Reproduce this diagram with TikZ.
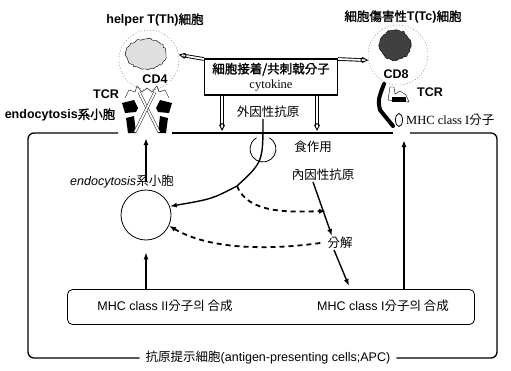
\documentclass[tikz,border=0pt]{standalone}
\usepackage{fontspec}
\setmainfont{Liberation Sans}
\newfontfamily\kr{Noto Sans CJK KR}[AutoFakeBold=1.5]
\newfontfamily\rmser{Liberation Serif}
\usetikzlibrary{arrows.meta,shapes.geometric,decorations.pathmorphing}

\begin{document}
\begin{tikzpicture}[x=1pt, y=-1pt, inner sep=1pt,
    txt/.style={font=\fontsize{12.5}{15}\selectfont},
    btxt/.style={font=\fontsize{12.5}{15}\selectfont\bfseries},
    flow/.style={line width=1.4pt, -{Latex[length=7pt,width=5pt]}},
    dflow/.style={line width=1.8pt, dash pattern=on 5pt off 4pt, -{Latex[length=7pt,width=5pt]}},
    hollow/.style={double, double distance=1.8pt, line width=0.9pt, -{Kite[open,length=8pt,width=6pt]}},
    cellring/.style={draw=gray, dash pattern=on 1.2pt off 1.8pt, circle, minimum size=60pt}]
  \useasboundingbox (0,0) rectangle (511,370);

  % T cells
  \node[btxt] (th) at (155,20) {helper T(Th){\kr 細胞}};
  \node[btxt] (tc) at (403,17) {{\kr 細胞傷害性}T(Tc){\kr 細胞}};
  \node[cellring] (thcell) at (149,60) {};
  \node[cellring] (tccell) at (398,55) {};
  \draw[fill=gray!25, thin, decorate, decoration={random steps, segment length=2pt, amplitude=1pt}]
    (146,54) ellipse [x radius=20, y radius=15];
  \draw[fill=black!75, decorate, decoration={random steps, segment length=2pt, amplitude=1.2pt}]
    (395,45) ellipse [x radius=16, y radius=15];
  \node[btxt, fill=white] (cd4) at (155,79) {CD4};
  \node[btxt, fill=white] (cd8) at (396,74) {CD8};

  % receptors of the helper T cell
  \begin{scope}[shift={(147,110)}]
    \draw[thin] (-22,-12) -- (-18,-20) -- (-12,-18) -- (-10,-24) -- (-5,-18) -- (0,-22)
      -- (5,-18) -- (10,-24) -- (12,-18) -- (18,-20) -- (22,-12);
    \fill (-25,-7) -- (-13,-10) -- (-9,-2) -- (-11,2) -- (-22,3) -- cycle;
    \fill (25,-7) -- (13,-10) -- (9,-2) -- (11,2) -- (22,3) -- cycle;
    \fill (-21,8) -- (-13,6) -- (-11,23) -- (-19,23) -- cycle;
    \fill (21,8) -- (13,6) -- (11,23) -- (19,23) -- cycle;
    \draw[double=white, double distance=2pt, thin] (-8,-18) -- (12,22);
    \draw[double=white, double distance=2pt, thin] (8,-18) -- (-12,22);
  \end{scope}
  \node[btxt] (tcrl) at (106,94) {TCR};
  \node[btxt] (endol) at (60,115) {endocytosis{\kr 系小胞}};

  % receptors of the cytotoxic T cell
  \draw[line width=4pt, line cap=round] (384,84) .. controls (378,100) .. (380,110) -- (393,126);
  \draw[thin, fill=white] (388,100) -- (390,87) -- (394,87) -- (395,94) -- (400,91) -- (406,95)
    -- (409,102) -- cycle;
  \fill (392,97) rectangle (406,102);
  \node[btxt] (tcrr) at (430,92) {TCR};
  \node[draw, thick, ellipse, minimum width=7pt, minimum height=13pt, inner sep=0pt] (mhcI) at (399,120) {};
  \node[txt, anchor=west] (mhcIl) at (405,120) {\rmser MHC class I{\kr 分子}};

  % adhesion / cytokine box
  \node[draw, line width=1.3pt, align=center, minimum width=133pt, minimum height=36pt, font=\fontsize{12.5}{15}\selectfont]
    (sig) at (271,77) {{\kr\bfseries 細胞接着/共刺戟分子}\\ \rmser cytokine};
  \draw[hollow] (sig.165) -- (thcell.10);
  \draw[hollow] (sig.15) -- (tccell.190);
  \coordinate (m1) at (222,131);
  \coordinate (m2) at (317,131);
  \draw[hollow] (sig.south -| m1) -- (m1);
  \draw[hollow] (sig.south -| m2) -- (m2);

  % cell membrane of the APC
  \node[txt, inner xsep=6pt] (apc) at (268,358) {{\kr 抗原提示細胞}(antigen-presenting cells;APC)};
  \draw[line width=1.3pt, rounded corners=6pt] (118,133) -- (28,133) -- (28,358) -- (apc.west);
  \draw[line width=1.3pt, rounded corners=6pt] (apc.east) -- (497,358) -- (497,133) -- (410,133);
  \draw[line width=1.3pt] (172,133) -- (393,133);

  % antigen uptake and processing
  \node[txt] (exo) at (268,112) {\kr 外因性抗原};
  \node[txt] (phago) at (313,147) {\kr 食作用};
  \node[txt] (endo) at (323,175) {\kr 內因性抗原};
  \node[txt] (deg) at (340,243) {\kr 分解};
  \coordinate (cup) at (263,149);
  \draw[thick] (cup) ++(-60:13) arc[start angle=-60, end angle=240, radius=13];
  \node[draw, thick, circle, minimum size=50pt] (ves) at (146,215) {};
  \node[txt] (vesl) at (122,182) {\itshape endocytosis{\kr 系小胞}};
  \coordinate (split) at (237,186);
  \draw[flow] ([xshift=-5pt]exo.south) .. controls (263,162) .. (split) .. controls (212,199) .. (ves.20);
  \draw[dflow] (split) .. controls (248,214) and (290,212) .. (326,211);
  \draw[flow] ([xshift=-10pt]endo.south) -- ([xshift=-8pt]deg.north);
  \coordinate (s1in) at (349,286);
  \draw[flow] ([xshift=-6pt]deg.south) -- (s1in);
  \draw[dflow] ([xshift=-6pt]deg.west) .. controls (270,250) and (210,250) .. (ves.-25);

  % MHC synthesis
  \node[draw, thick, rounded corners=5pt, minimum width=407pt, minimum height=35pt] (syn) at (271,307) {};
  \node[txt] (syn2) at (165,306) {MHC class II{\kr 分子의 合成}};
  \node[txt] (syn1) at (383,306) {MHC class I{\kr 分子의 合成}};
  \coordinate (thin) at (146,138);
  \coordinate (tcin) at (404,140);
  \draw[flow] (syn.north -| ves) -- ([yshift=-12pt]ves.south);
  \draw[flow] ([yshift=-8pt]vesl.north -| ves) -- (thin);
  \draw[flow] (syn.north -| tcin) -- (tcin);
\end{tikzpicture}
\end{document}
